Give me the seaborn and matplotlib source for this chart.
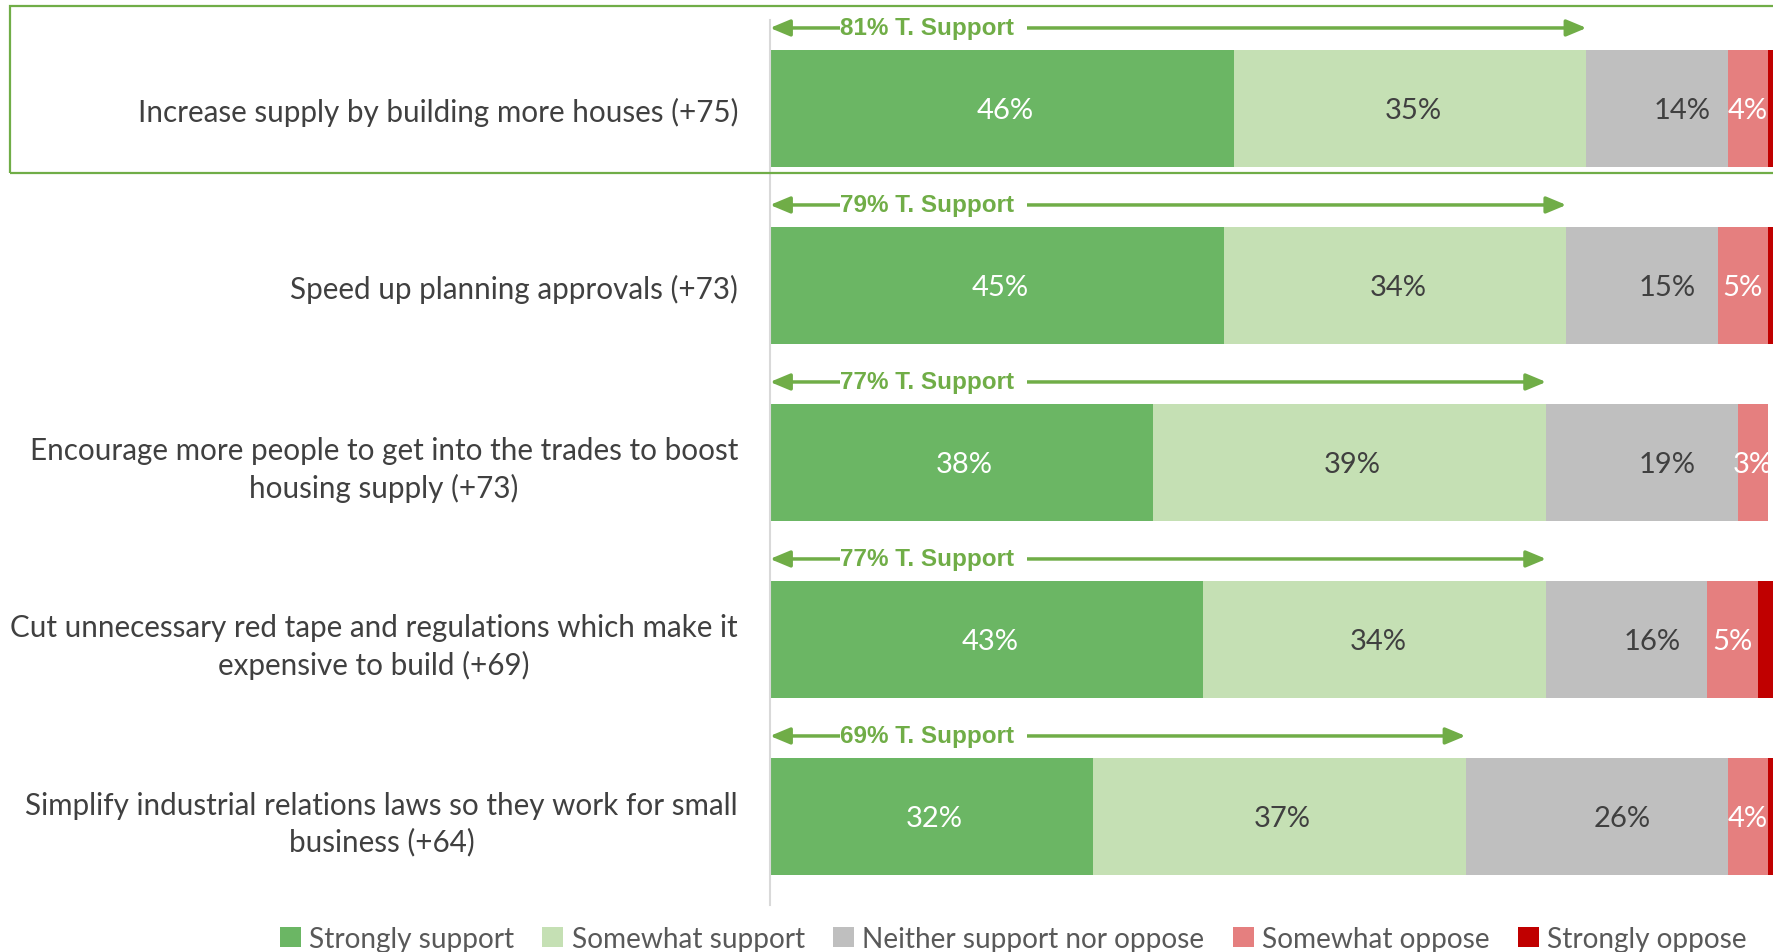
import matplotlib
matplotlib.use("Agg")
import matplotlib.pyplot as plt
import seaborn as sns
import numpy as np
from matplotlib.patches import Rectangle, Patch

categories = [
    "Increase supply by building more houses (+75)",
    "Speed up planning approvals (+73)",
    "Encourage more people to get into the trades to boost\nhousing supply (+73)",
    "Cut unnecessary red tape and regulations which make it\nexpensive to build (+69)",
    "Simplify industrial relations laws so they work for small\nbusiness (+64)",
]
strongly_support = [46, 45, 38, 43, 32]
somewhat_support = [35, 34, 39, 34, 37]
neither = [14, 15, 19, 16, 26]
somewhat_oppose = [4, 5, 3, 5, 4]
strongly_oppose = [1, 1, 0, 2, 1]
total_support = [81, 79, 77, 77, 69]
series_names = ["Strongly support", "Somewhat support", "Neither support nor oppose",
                "Somewhat oppose", "Strongly oppose"]

colors = ["#6BB664", "#C5E0B4", "#BFBFBF", "#E57F7F", "#C00000"]
label_colors = ["white", "#404040", "#404040", "white", None]
label_shift = [0.3, 0.3, 2.5, 0.0, 0.0]
green = "#70AD47"

sns.set_style("white")
plt.rcParams["font.family"] = ["Lato", "DejaVu Sans"]

W, H = 1773, 953
fig = plt.figure(figsize=(W / 100, H / 100), dpi=100)
ax = fig.add_axes([770 / W, 47 / H, 1008 / W, 885 / H])

series = np.array([strongly_support, somewhat_support, neither, somewhat_oppose, strongly_oppose], dtype=float)
cum = np.cumsum(series, axis=0)
for i in reversed(range(len(series))):
    sns.barplot(x=cum[i], y=categories, orient="h", color=colors[i], saturation=1,
                width=0.66, edgecolor="none", linewidth=0, ax=ax)

ax.set_xlim(0, 100)
ax.set_ylim(4.5, -0.5)
ax.set_xlabel("")
ax.set_ylabel("")
ax.set_xticks([])
ax.set_yticks(range(len(categories)))
ax.set_yticklabels(categories, fontsize=21.3, color="#404040")
for t in ax.get_yticklabels():
    t.set_multialignment("center")
    t.set_linespacing(1.35)
ax.tick_params(axis="y", length=0, pad=23)
for s in ["top", "right", "bottom"]:
    ax.spines[s].set_visible(False)
ax.spines["left"].set_color("#D9D9D9")
ax.spines["left"].set_linewidth(1.5)

# segment labels
starts = cum - series
for i in range(len(series)):
    if label_colors[i] is None:
        continue
    for j in range(len(categories)):
        ax.text(starts[i, j] + series[i, j] / 2 + label_shift[i], j + 0.01, f"{int(series[i, j])}%",
                ha="center", va="center", fontsize=21, color=label_colors[i])

# total support arrows
for j, tot in enumerate(total_support):
    y = j - 0.455
    ax.annotate("", xy=(tot, y), xytext=(0, y),
                arrowprops=dict(arrowstyle="<|-|>,head_length=0.6,head_width=0.25",
                                color=green, lw=2.5, mutation_scale=20,
                                shrinkA=0, shrinkB=0), annotation_clip=False)
    ax.text(6.9, y, f"{tot}% T. Support  ", ha="left", va="center", fontsize=17.5,
            fontweight="bold", color=green, family=["Liberation Sans", "DejaVu Sans"],
            bbox=dict(facecolor="white", edgecolor="none", pad=0))

# highlight box around first row
fig.patches.append(Rectangle((10 / W, 779 / H), 1.2, 167 / H, transform=fig.transFigure,
                             fill=False, edgecolor=green, linewidth=1.6, zorder=10))

handles = [Patch(facecolor=c, edgecolor="none", label=n) for c, n in zip(colors, series_names)]
fig.legend(handles=handles, loc="center", bbox_to_anchor=(0.5715, 0.014), ncol=5,
           frameon=False, fontsize=20.2, handlelength=0.75, handleheight=0.75,
           handletextpad=0.3, columnspacing=1.0, labelcolor="#595959")

fig.savefig("out.png", dpi=100)
